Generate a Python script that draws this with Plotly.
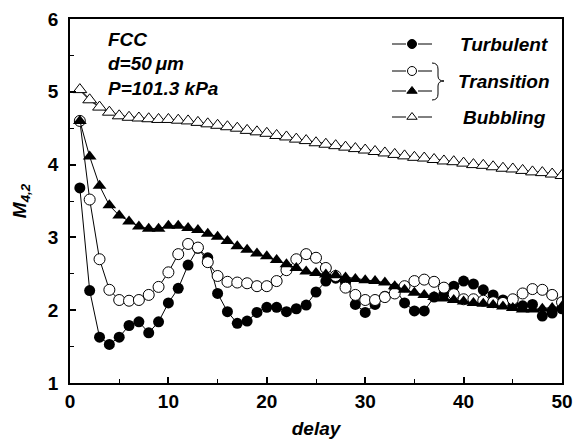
import plotly.graph_objects as go

delay = list(range(1, 51))

turbulent = [3.68, 2.27, 1.63, 1.53, 1.63, 1.79, 1.84, 1.69, 1.84, 2.10,
             2.30, 2.62, 2.85, 2.72, 2.23, 1.98, 1.82, 1.85, 1.97, 2.04,
             2.04, 1.98, 2.02, 2.07, 2.25, 2.40, 2.44, 2.38, 2.08, 1.97,
             2.08, 2.19, 2.30, 2.10, 1.99, 1.99, 2.18, 2.22, 2.33, 2.40,
             2.36, 2.28, 2.21, 2.14, 2.08, 2.06, 2.08, 1.92, 1.96, 2.02]

transition_open = [4.60, 3.52, 2.70, 2.28, 2.14, 2.13, 2.14, 2.21, 2.32, 2.52,
                   2.77, 2.91, 2.86, 2.66, 2.47, 2.39, 2.38, 2.37, 2.33, 2.33,
                   2.40, 2.55, 2.70, 2.77, 2.72, 2.58, 2.47, 2.31, 2.21, 2.14,
                   2.14, 2.18, 2.23, 2.33, 2.40, 2.42, 2.39, 2.31, 2.22, 2.15,
                   2.15, 2.13, 2.11, 2.10, 2.15, 2.23, 2.29, 2.28, 2.21, 2.11]

transition_tri = [4.60, 4.11, 3.71, 3.44, 3.30, 3.22, 3.15, 3.12, 3.12, 3.16,
                  3.16, 3.13, 3.10, 3.05, 3.01, 2.95, 2.88, 2.83, 2.78, 2.74,
                  2.69, 2.63, 2.58, 2.53, 2.51, 2.49, 2.48, 2.45, 2.43, 2.41,
                  2.40, 2.38, 2.33, 2.28, 2.24, 2.21, 2.18, 2.16, 2.14, 2.12,
                  2.10, 2.09, 2.07, 2.05, 2.03, 2.01, 2.01, 2.02, 2.03, 2.05]

bubbling = [5.03, 4.89, 4.79, 4.72, 4.67, 4.65, 4.64, 4.63, 4.62, 4.62,
            4.61, 4.60, 4.58, 4.56, 4.54, 4.52, 4.50, 4.47, 4.45, 4.43,
            4.40, 4.38, 4.35, 4.33, 4.30, 4.28, 4.26, 4.24, 4.22, 4.20,
            4.18, 4.16, 4.14, 4.12, 4.10, 4.09, 4.07, 4.05, 4.04, 4.02,
            4.00, 3.99, 3.97, 3.95, 3.94, 3.92, 3.90, 3.89, 3.87, 3.85]

x_ticks = [0, 10, 20, 30, 40, 50]
y_ticks = [1, 2, 3, 4, 5, 6]

FONT = "Liberation Sans"
W, H = 576, 443
L, R, T, B = 70, 14, 19, 60

fig = go.Figure()

common_line = dict(color="black", width=1)

fig.add_trace(go.Scatter(x=delay, y=bubbling, mode="lines+markers",
                         line=dict(color="#333333", width=1.5),
                         marker=dict(symbol="triangle-up", size=12, color="white",
                                     line=dict(color="black", width=1)),
                         showlegend=False))
fig.add_trace(go.Scatter(x=delay, y=turbulent, mode="lines+markers",
                         line=common_line,
                         marker=dict(symbol="circle", size=11, color="black"),
                         showlegend=False))
fig.add_trace(go.Scatter(x=delay, y=transition_open, mode="lines+markers",
                         line=common_line,
                         marker=dict(symbol="circle", size=11, color="white",
                                     line=dict(color="black", width=1)),
                         showlegend=False))
fig.add_trace(go.Scatter(x=delay, y=transition_tri, mode="lines+markers",
                         line=common_line,
                         marker=dict(symbol="triangle-up", size=12, color="black"),
                         showlegend=False))

# legend drawn on a hidden pixel-based overlay axis
leg_rows = [(44, "circle", "black"), (71, "circle", "white"),
            (91, "triangle-up", "black"), (117, "triangle-up", "white")]
for yy, sym, fc in leg_rows:
    for seg in ([392, 406], [418, 432]):
        fig.add_trace(go.Scatter(x=seg, y=[yy, yy], mode="lines",
                                 line=dict(color="black", width=1),
                                 xaxis="x2", yaxis="y2", showlegend=False,
                                 hoverinfo="skip"))
    fig.add_trace(go.Scatter(x=[412], y=[yy], mode="markers",
                             marker=dict(symbol=sym, size=9, color=fc,
                                         line=dict(color="black", width=1)),
                             xaxis="x2", yaxis="y2", showlegend=False,
                             hoverinfo="skip", cliponaxis=False))

leg_texts = [(44, "Turbulent"), (81, "Transition"), (117, "Bubbling")]
annotations = []
for yy, t in leg_texts:
    annotations.append(dict(x=504, y=yy, xref="x2", yref="y2", text=t,
                            showarrow=False, xanchor="center", yanchor="middle",
                            font=dict(family=FONT, size=19, color="black",
                                      weight="bold", style="italic")))

info = [(39, "FCC"), (63, "d=50\u2009\u03bcm"), (88, "P=101.3 kPa")]
for yy, t in info:
    annotations.append(dict(x=106, y=yy, xref="x2", yref="y2", text=t,
                            showarrow=False, xanchor="left", yanchor="middle",
                            font=dict(family=FONT, size=19, color="black",
                                      weight="bold", style="italic")))

brace = ("M 432,63 Q 438,63 438,69 L 438,76 Q 438,81 444,81 "
         "Q 438,81 438,86 L 438,94 Q 438,100 432,100")
shapes = [dict(type="path", path=brace, xref="x2", yref="y2",
               line=dict(color="black", width=1))]

tickfont = dict(family=FONT, size=19, color="black", weight="bold")
titlefont = dict(family=FONT, size=19, color="black", weight="bold", style="italic")

fig.update_layout(
    width=W, height=H,
    margin=dict(l=L, r=R, t=T, b=B, autoexpand=False),
    paper_bgcolor="white", plot_bgcolor="white",
    xaxis=dict(range=[0, 50], tickvals=x_ticks, ticks="inside", ticklen=6,
               tickwidth=1.5, tickcolor="black", showline=True, linecolor="black",
               linewidth=1.5, mirror=True, showgrid=False, zeroline=False,
               tickfont=tickfont, automargin=False,
               minor=dict(dtick=5, ticks="inside", ticklen=4, tickwidth=1.2,
                          tickcolor="black", showgrid=False),
               title=dict(text="delay", font=titlefont, standoff=11)),
    yaxis=dict(range=[1, 6], tickvals=y_ticks, ticks="inside", ticklen=6,
               tickwidth=1.5, tickcolor="black", showline=True, linecolor="black",
               linewidth=1.5, mirror=True, showgrid=False, zeroline=False,
               tickfont=tickfont, ticklabelstandoff=6, automargin=False,
               minor=dict(dtick=0.5, ticks="inside", ticklen=4, tickwidth=1.2,
                          tickcolor="black", showgrid=False),
               title=dict(text="M<sub>4,2</sub>", font=titlefont, standoff=16)),
    xaxis2=dict(range=[L, W - R], overlaying="x", visible=False, fixedrange=True,
                automargin=False),
    yaxis2=dict(range=[H - B, T], overlaying="y", visible=False, fixedrange=True,
                automargin=False),
    annotations=annotations,
    shapes=shapes,
)

fig.write_html("out.html")
